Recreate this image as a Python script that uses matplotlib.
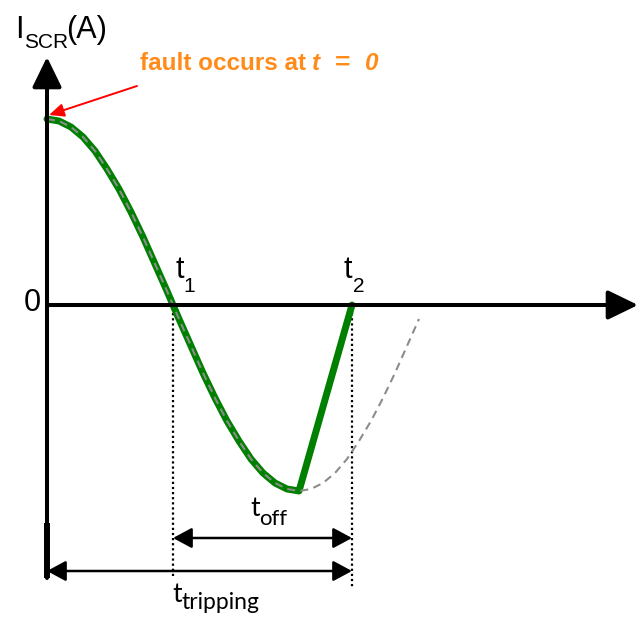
import matplotlib
matplotlib.use("Agg")
import matplotlib.pyplot as plt
from matplotlib.transforms import IdentityTransform

plt.rcParams['font.family'] = ['Liberation Sans', 'DejaVu Sans']

# ---- data (time in arbitrary units, current in arbitrary units) ----
t_wave = [0, 12, 24, 36, 48, 60, 72, 84, 96, 108, 120, 132, 144, 156, 168, 180,
          192, 204, 216, 228, 240, 252, 264, 276, 288, 300, 312, 324, 336, 348, 360, 372]
i_wave = [186, 184, 178, 168, 154, 136, 116, 93, 68, 41, 14, -14, -41, -68, -93, -116,
          -136, -154, -168, -178, -184, -186, -184, -178, -168, -154, -136, -116, -93, -68, -41, -14]
n_green = 22          # green (actual SCR current) follows the wave up to its minimum
t1 = 126
t2 = 305
t_axis_end = 590
i_axis_top = 248
i_axis_bottom = -273

ylabel_parts = ("I", "SCR", "(A)")
xlabel = "t"
zero_label = "0"
t1_parts = ("t", "1")
t2_parts = ("t", "2")
toff_parts = ("t", "off")
ttrip_parts = ("t", "tripping")
fault_parts = ["fault occurs at", "t", "=", "0"]
fault_styles = ["normal", "italic", "normal", "italic"]

green = '#008000'
orange = '#ff8c1a'

fig = plt.figure(figsize=(6.41, 6.17), dpi=100)
ax = fig.add_axes([0, 0, 1, 1])
ax.set_xlim(-47, 594)
ax.set_ylim(-312, 305)
ax.axis('off')
renderer = fig.canvas.get_renderer()

# green SCR current
g_t = t_wave[:n_green] + [t2]
g_i = i_wave[:n_green] + [0]
ax.plot(g_t, g_i, color=green, lw=5.0, solid_capstyle='round', solid_joinstyle='round', zorder=3)
# dashed natural waveform
ax.plot(t_wave, i_wave, color='#8c8c8c', lw=1.5, ls=(0, (3.8, 2.6)), zorder=4)

# axes arrows
ax.annotate("", xy=(t_axis_end + 1, 0), xytext=(0, 0),
            arrowprops=dict(arrowstyle="-|>,head_length=1.85,head_width=0.9", mutation_scale=10,
                            lw=2.9, color='k', fc='k', shrinkA=0, shrinkB=0), zorder=5)
ax.annotate("", xy=(0, i_axis_top), xytext=(0, i_axis_bottom),
            arrowprops=dict(arrowstyle="-|>,head_length=1.85,head_width=0.9", mutation_scale=10,
                            lw=2.9, color='k', fc='k', shrinkA=0, shrinkB=0), zorder=5)
ax.plot([0, 0], [-218, i_axis_bottom], color='k', lw=4.3, solid_capstyle='butt', zorder=5)

# dotted markers
ax.plot([t1, t1], [-3, -272], color='k', lw=1.6, ls=(0, (1, 1.3)), zorder=2)
ax.plot([t2, t2], [-3, -282], color='k', lw=1.6, ls=(0, (1, 1.3)), zorder=2)

# interval arrows
ax.annotate("", xy=(t2, -233), xytext=(t1, -233),
            arrowprops=dict(arrowstyle="<|-|>,head_length=1.15,head_width=0.62", mutation_scale=10,
                            lw=1.8, color='k', fc='k', shrinkA=0, shrinkB=0))
ax.annotate("", xy=(t2, -266), xytext=(0, -266),
            arrowprops=dict(arrowstyle="<|-|>,head_length=1.15,head_width=0.62", mutation_scale=10,
                            lw=1.8, color='k', fc='k', shrinkA=0, shrinkB=0))

# fault arrow
ax.annotate("", xy=(2, 190), xytext=(90, 219),
            arrowprops=dict(arrowstyle="-|>,head_length=0.9,head_width=0.4", mutation_scale=10,
                            lw=1.4, color='#ff0000', fc='#ff0000', shrinkA=0, shrinkB=0))


def sub_label(x, y, base, sub, size, sub_size, drop, gap=0.0, family='Liberation Sans',
              tail=None, tail_gap=0.0):
    """Base text at data (x, y) baseline; subscript placed right after, `drop` px lower."""
    bt = ax.text(x, y, base, fontsize=size, va='baseline', ha='left', family=family)
    bb = bt.get_window_extent(renderer)
    yd = ax.transData.transform((x, y))[1]
    st = ax.text(bb.x1 + gap, yd - drop, sub, fontsize=sub_size, va='baseline', ha='left',
                 family=family, transform=IdentityTransform())
    if tail is not None:
        sb = st.get_window_extent(renderer)
        ax.text(sb.x1 + tail_gap, yd, tail, fontsize=size, va='baseline', ha='left',
                family=family, transform=IdentityTransform())


# texts
sub_label(-32, 267, *ylabel_parts[:2], size=22, sub_size=15, drop=10, gap=1,
          tail=ylabel_parts[2], tail_gap=-3)
ax.text(t_axis_end + 47, 0, xlabel, fontsize=23, va='center', ha='left')
ax.text(-15, 2, zero_label, fontsize=22, va='center', ha='center')
sub_label(t1 + 2, 27, *t1_parts, size=22, sub_size=15, drop=14, gap=0)
sub_label(t2 - 8, 27, *t2_parts, size=22, sub_size=15, drop=14, gap=0)
sub_label(203, -211, *toff_parts, size=19, sub_size=16, drop=9, gap=0, family='Lato')
sub_label(125, -297, *ttrip_parts, size=19, sub_size=16.5, drop=7, gap=0, family='Lato')

# fault annotation text, built from pieces (bold, with italic t and 0)
gaps_px = [0, 6, 15, 14]
x_disp, y_disp = ax.transData.transform((93, 235))
for part, style, g in zip(fault_parts, fault_styles, gaps_px):
    tx = ax.text(x_disp + g, y_disp, part, fontsize=17.5 if part != "=" else 19,
                 fontweight='bold', fontstyle=style,
                 color=orange, va='baseline', ha='left', transform=IdentityTransform())
    x_disp = tx.get_window_extent(renderer).x1

fig.savefig("out.png", dpi=100)
